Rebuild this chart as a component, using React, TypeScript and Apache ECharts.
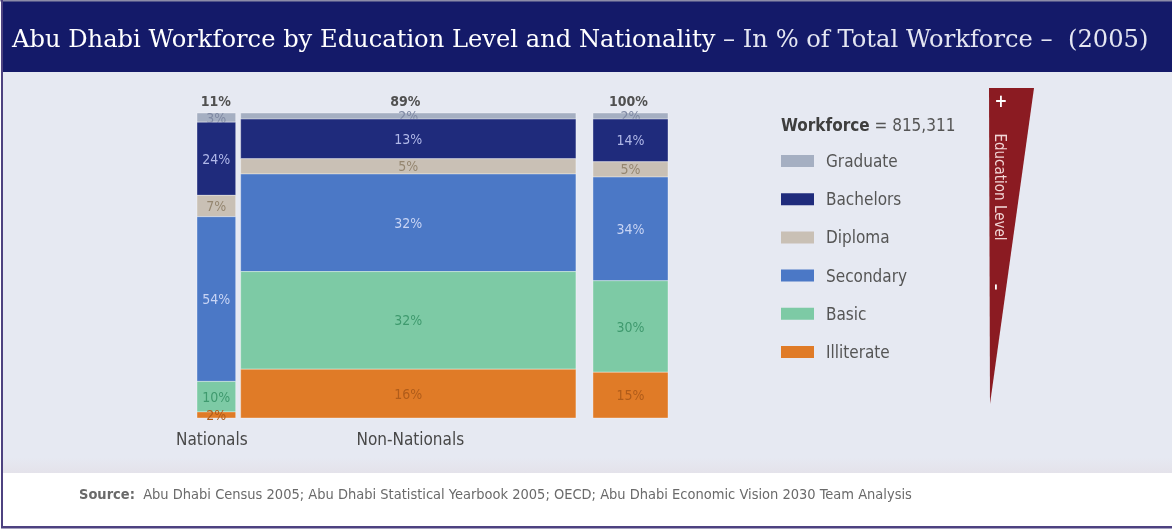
import React, { useEffect, useRef } from "react";
import * as echarts from "echarts";

const columns = ["Nationals", "Non-Nationals", "Total"];
const columnShares = [11, 89, 100];
const levels = ["Graduate", "Bachelors", "Diploma", "Secondary", "Basic", "Illiterate"];
const nationals = [3, 24, 7, 54, 10, 2];
const nonNationals = [2, 13, 5, 32, 32, 16];
const total = [2, 14, 5, 34, 30, 15];
const workforce = "815,311";

const levelColors = ["#a5afc2", "#1f2b7c", "#c9c0b5", "#4b78c6", "#7dcaa5", "#e07b27"];
const labelColors = ["#7f89a3", "#b0b8e8", "#958670", "#c8d4f4", "#3f9a6e", "#b05c1a"];

const TOTAL_X0 = 104.5;
const TOTAL_X1 = 124.3;
const NAME_OFFSETS = [-6, 3, 0];
const FONT = '"DejaVu Sans Condensed", "Liberation Sans Narrow", "DejaVu Sans", sans-serif';
const SERIF = '"DejaVu Serif", "Liberation Serif", serif';

export default function App() {
  const ref = useRef<HTMLDivElement>(null);
  useEffect(() => {
    if (!ref.current) return;
    const chart = echarts.init(ref.current, null, { renderer: "svg" });
    const colValues = [nationals, nonNationals, total];
    const xr: number[][] = [
      [0, columnShares[0]],
      [columnShares[0], columnShares[0] + columnShares[1]],
      [TOTAL_X0, TOTAL_X1],
    ];

    const levelSeries = levels.map((name, li) => ({
      type: "custom",
      name,
      itemStyle: { color: levelColors[li] },
      renderItem: (params: any, api: any) => {
        const x0 = api.value(0), x1 = api.value(1), y0 = api.value(2), y1 = api.value(3);
        const pct = api.value(4), ci = api.value(5);
        const p0 = api.coord([x0, y1]);
        const p1 = api.coord([x1, y0]);
        const padL = ci === 1 ? 2 : 0;
        const padR = ci === 0 ? 3 : 0;
        const x = p0[0] + padL;
        const w = p1[0] - p0[0] - padL - padR;
        const y = p0[1];
        const h = p1[1] - p0[1];
        return {
          type: "group",
          children: [
            {
              type: "rect",
              shape: { x, y, width: w, height: h },
              style: { fill: levelColors[li], stroke: "rgba(255,255,255,0.35)", lineWidth: 1 },
            },
            {
              type: "text",
              x: x + w / 2,
              y: y + h / 2,
              style: {
                text: pct + "%",
                fill: labelColors[li],
                fontSize: 14,
                fontFamily: FONT,
                align: "center",
                verticalAlign: "middle",
                textAlign: "center",
                textVerticalAlign: "middle",
              },
            },
          ],
        };
      },
      data: columns.map((c, ci) => {
        const vals = colValues[ci];
        let below = 0;
        for (let k = li + 1; k < vals.length; k++) below += vals[k];
        return [xr[ci][0], xr[ci][1], below, below + vals[li], vals[li], ci];
      }),
      encode: { x: [0, 1], y: [2, 3] },
    }));

    const annotSeries = {
      type: "custom",
      name: "annot",
      renderItem: (params: any, api: any) => {
        const x0 = api.value(0), x1 = api.value(1), share = api.value(2), ci = api.value(3);
        const top = api.coord([(x0 + x1) / 2, 100]);
        const bot = api.coord([(x0 + x1) / 2, 0]);
        const children: any[] = [
          {
            type: "text",
            x: top[0] - 2,
            y: top[1] - 12,
            style: {
              text: share + "%",
              fill: "#505050",
              fontSize: 14,
              fontWeight: "bold",
              fontFamily: FONT,
              align: "center",
              verticalAlign: "middle",
              textAlign: "center",
              textVerticalAlign: "middle",
            },
          },
        ];
        if (ci < 2) {
          children.push({
            type: "text",
            x: bot[0] + NAME_OFFSETS[ci],
            y: bot[1] + 21,
            style: {
              text: columns[ci],
              fill: "#484848",
              fontSize: 17,
              fontFamily: FONT,
              align: "center",
              verticalAlign: "middle",
              textAlign: "center",
              textVerticalAlign: "middle",
            },
          });
        }
        return { type: "group", children };
      },
      data: columns.map((c, ci) => [xr[ci][0], xr[ci][1], columnShares[ci], ci]),
      encode: { x: [0, 1], y: [] },
      z: 5,
    };

    chart.setOption({
      animation: false,
      grid: { left: 197, right: 504, top: 113, bottom: 113, containLabel: false },
      xAxis: { type: "value", min: 0, max: TOTAL_X1, show: false },
      yAxis: { type: "value", min: 0, max: 100, show: false },
      legend: {
        data: levels,
        orient: "vertical",
        left: 781,
        top: 151,
        padding: 0,
        itemWidth: 33,
        itemHeight: 12,
        itemGap: 18.2,
        icon: "rect",
        selectedMode: false,
        textStyle: { fontSize: 17, lineHeight: 20, color: "#555", fontFamily: FONT, padding: [0, 0, 0, 7] },
      },
      graphic: [
        { type: "rect", z: -10, shape: { x: 0, y: 0, width: 1172, height: 531 }, style: { fill: "#ffffff" } },
        { type: "rect", z: -9, shape: { x: 2, y: 72, width: 1170, height: 401 }, style: { fill: "#e6e9f2" } },
        {
          type: "rect", z: -8, shape: { x: 2, y: 458, width: 1170, height: 15 },
          style: {
            fill: new echarts.graphic.LinearGradient(0, 0, 0, 1, [
              { offset: 0, color: "#e6e9f2" },
              { offset: 1, color: "#e4e2ea" },
            ]),
          },
        },
        { type: "rect", z: -7, shape: { x: 2, y: 1, width: 1170, height: 71 }, style: { fill: "#141a69" } },
        { type: "rect", z: -6, shape: { x: 0, y: 0, width: 1172, height: 1.5 }, style: { fill: "#8c8ca8" } },
        { type: "rect", z: 10, shape: { x: 1, y: 0, width: 2, height: 528 }, style: { fill: "#4d4280" } },
        { type: "rect", z: 10, shape: { x: 1, y: 526, width: 1171, height: 2.5 }, style: { fill: "#4d4280" } },
        {
          type: "text", z: 10, x: 12, y: 39,
          style: {
            text: "{a|Abu Dhabi Workforce by Education Level and Nationality}{b| – In % of Total Workforce –  (2005)}",
            verticalAlign: "middle", textVerticalAlign: "middle",
            rich: {
              a: { fill: "#ffffff", color: "#ffffff", fontSize: 24.2, fontFamily: SERIF },
              b: { fill: "#e4e6f2", color: "#e4e6f2", fontSize: 24.2, fontFamily: SERIF },
            },
          },
        },
        {
          type: "text", z: 10, x: 781, y: 125,
          style: {
            text: "{a|Workforce}{b| = " + workforce + "}",
            verticalAlign: "middle", textVerticalAlign: "middle",
            rich: {
              a: { fill: "#3e3e3e", color: "#3e3e3e", fontSize: 17, fontWeight: "bold", fontFamily: FONT },
              b: { fill: "#555555", color: "#555555", fontSize: 17, fontFamily: FONT },
            },
          },
        },
        {
          type: "polygon", z: 5,
          shape: { points: [[989, 88], [1034, 88], [990, 404]] },
          style: { fill: "#8b1b22" },
        },
        {
          type: "text", z: 6, x: 1001, y: 101,
          style: { text: "+", fill: "#ffffff", fontSize: 17, fontWeight: "bold", fontFamily: FONT, align: "center", verticalAlign: "middle", textAlign: "center", textVerticalAlign: "middle" },
        },
        {
          type: "text", z: 6, x: 1000, y: 187, rotation: -Math.PI / 2,
          style: { text: "Education Level", fill: "#f2d6d6", fontSize: 15, fontFamily: FONT, align: "center", verticalAlign: "middle", textAlign: "center", textVerticalAlign: "middle" },
        },
        {
          type: "text", z: 6, x: 997, y: 287, rotation: -Math.PI / 2,
          style: { text: "–", fill: "#ffffff", fontSize: 14, fontWeight: "bold", fontFamily: FONT, align: "center", verticalAlign: "middle", textAlign: "center", textVerticalAlign: "middle" },
        },
        {
          type: "text", z: 10, x: 79, y: 494,
          style: {
            text: "{a|Source:}{b|  Abu Dhabi Census 2005; Abu Dhabi Statistical Yearbook 2005; OECD; Abu Dhabi Economic Vision 2030 Team Analysis}",
            verticalAlign: "middle", textVerticalAlign: "middle",
            rich: {
              a: { fill: "#6a6a6a", color: "#6a6a6a", fontSize: 14.5, fontWeight: "bold", fontFamily: FONT },
              b: { fill: "#6a6a6a", color: "#6a6a6a", fontSize: 14.5, fontFamily: FONT },
            },
          },
        },
      ],
      series: [...levelSeries, annotSeries],
    });
    return () => chart.dispose();
  }, []);
  return <div ref={ref} style={{ position: "fixed", left: 0, top: 0, width: 1172, height: 531 }} />;
}
